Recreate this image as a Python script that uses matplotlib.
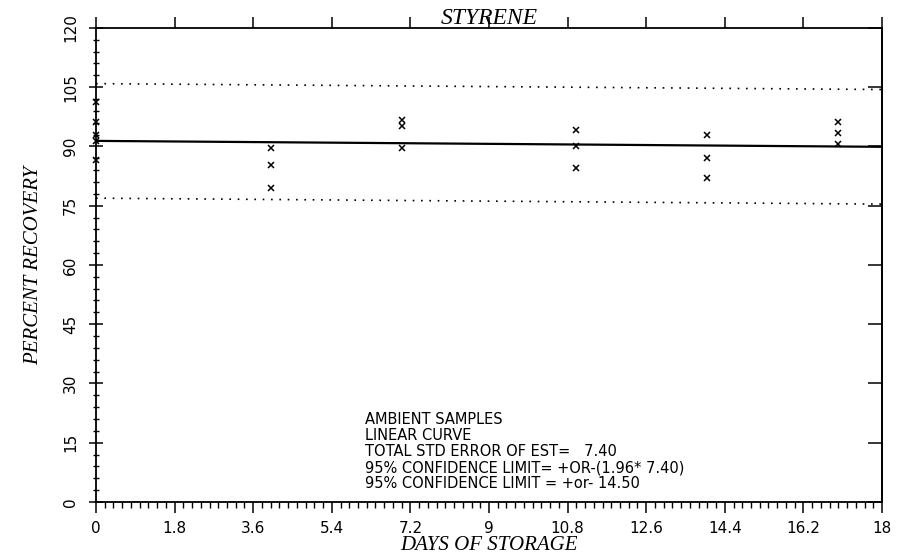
import matplotlib.pyplot as plt
import numpy as np
from matplotlib.ticker import MultipleLocator, FixedLocator

# data
days = [0, 0, 0, 0, 0, 4, 4, 4, 7, 7, 7, 11, 11, 11, 14, 14, 14, 17, 17, 17]
recovery = [101.3, 96.2, 92.8, 91.3, 86.6, 89.6, 85.3, 79.5, 96.7, 95.2, 89.6,
            94.2, 90.1, 84.6, 92.9, 87.1, 82.0, 96.2, 93.4, 90.6]

fit_x = [0, 18]
fit_y = [91.4, 89.9]
conf_limit = 14.50

x_ticks = [0, 1.8, 3.6, 5.4, 7.2, 9, 10.8, 12.6, 14.4, 16.2, 18]
x_tick_labels = ['0', '1.8', '3.6', '5.4', '7.2', '9', '10.8', '12.6', '14.4', '16.2', '18']
y_ticks = [0, 15, 30, 45, 60, 75, 90, 105, 120]

notes = ['AMBIENT SAMPLES',
         'LINEAR CURVE',
         'TOTAL STD ERROR OF EST=   7.40',
         '95% CONFIDENCE LIMIT= +OR-(1.96* 7.40)',
         '95% CONFIDENCE LIMIT = +or- 14.50']

serif = ['Liberation Serif', 'DejaVu Serif']

fig = plt.figure(figsize=(9, 5.58), dpi=100)
ax = fig.add_axes([0.1067, 0.1004, 0.8733, 0.8496])

ax.plot(fit_x, fit_y, color='black', lw=1.6)
ax.plot(fit_x, [v + conf_limit for v in fit_y], color='black', lw=1.2, ls=(0, (1, 4)))
ax.plot(fit_x, [v - conf_limit for v in fit_y], color='black', lw=1.2, ls=(0, (1, 4)))
ax.plot(days, recovery, 'x', color='black', ms=4.5, mew=1.1, clip_on=False)

ax.set_xlim(0, 18)
ax.set_ylim(0, 120)
ax.xaxis.set_major_locator(FixedLocator(x_ticks))
ax.set_xticklabels(x_tick_labels)
ax.xaxis.set_minor_locator(MultipleLocator(0.2))
ax.yaxis.set_major_locator(FixedLocator(y_ticks))
ax.yaxis.set_minor_locator(MultipleLocator(3))

ax.tick_params(axis='x', which='major', direction='out', length=8, width=1.1,
               top=True, labelsize=11, pad=6)
ax.tick_params(axis='x', which='minor', direction='out', length=4, width=1, top=False)
ax.tick_params(axis='y', which='major', direction='inout', length=10, width=1.1,
               labelsize=11, pad=8)
ax.tick_params(axis='y', which='minor', direction='inout', length=5, width=1, right=False)
for lbl in ax.get_yticklabels():
    lbl.set_rotation(90)
    lbl.set_va('center')
for s in ax.spines.values():
    s.set_linewidth(1.3)

# right-hand ticks point inward only
ax2 = ax.secondary_yaxis('right')
ax2.set_yticks(y_ticks)
ax2.tick_params(direction='in', length=10, width=1.1, labelright=False)
ax2.spines['right'].set_linewidth(1.3)

ax.set_xlabel('DAYS OF STORAGE', family=serif, style='italic', fontsize=15, labelpad=0)
ax.set_ylabel('PERCENT RECOVERY', family=serif, style='italic', fontsize=15, labelpad=14)
ax.text(9, 119.8, 'STYRENE', family=serif, style='italic', fontsize=17,
        ha='center', va='bottom')

for i, line in enumerate(notes):
    ax.text(6.15, 21 - i * 4.1, line, fontsize=10.5, ha='left', va='center')

fig.savefig('out.png', dpi=100)
